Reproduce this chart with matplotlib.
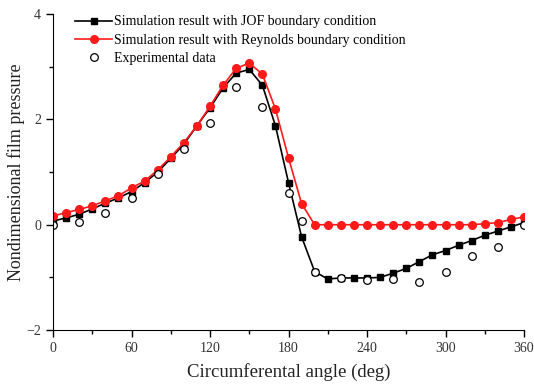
import matplotlib.pyplot as plt
import numpy as np

# circumferential angle (deg)
angle = list(range(0, 370, 10))

# JOF boundary condition
jof = [0.07, 0.13, 0.20, 0.30, 0.41, 0.51, 0.63, 0.80, 1.00, 1.26,
       1.53, 1.88, 2.22, 2.60, 2.88, 2.95, 2.65, 1.88, 0.80, -0.23,
       -0.89, -1.03, -1.01, -1.01, -1.01, -1.00, -0.92, -0.83, -0.70, -0.57,
       -0.49, -0.39, -0.30, -0.20, -0.12, -0.04, 0.04]

# Reynolds boundary condition
reynolds = [0.165, 0.23, 0.29, 0.36, 0.455, 0.55, 0.70, 0.83, 1.04, 1.29,
            1.56, 1.88, 2.25, 2.65, 2.97, 3.07, 2.86, 2.20, 1.27, 0.40,
            0.0, 0.0, 0.0, 0.0, 0.0, 0.0, 0.0, 0.0, 0.0, 0.0,
            0.0, 0.0, 0.0, 0.02, 0.04, 0.10, 0.15]

# experimental data
exp_angle = [0, 20, 40, 60, 80, 100, 120, 140, 160, 180, 190, 200,
             220, 240, 260, 280, 300, 320, 340, 360]
exp_val = [0.0, 0.06, 0.23, 0.50, 0.97, 1.44, 1.94, 2.61, 2.23, 0.61, 0.07, -0.90,
           -1.02, -1.05, -1.03, -1.08, -0.89, -0.59, -0.42, 0.0]

plt.rcParams['font.family'] = ['Liberation Serif', 'DejaVu Serif']

fig = plt.figure(figsize=(5.34, 3.92), dpi=100)
ax = fig.add_axes([0.0993, 0.158, 0.882, 0.806])

ax.plot(angle, jof, '-s', color='black', markersize=5, linewidth=1.2,
        label='Simulation result with JOF boundary condition')
ax.plot(angle, reynolds, '-o', color='#ff1a1a', markersize=5.5, linewidth=1.2,
        label='Simulation result with Reynolds boundary condition')
ax.plot(exp_angle, exp_val, 'o', markerfacecolor='white', markeredgecolor='black',
        markersize=5.5, markeredgewidth=0.9, label='Experimental data')

ax.set_xlim(0, 360)
ax.set_ylim(-2, 4)
ax.set_xticks(np.arange(0, 361, 60))
ax.set_xticks(np.arange(30, 361, 60), minor=True)
ax.set_yticks([-2, 0, 2, 4])
ax.set_yticks([-1, 1, 3], minor=True)
ax.spines['top'].set_visible(False)
ax.spines['right'].set_visible(False)
ax.tick_params(which='major', direction='out', length=5, width=1, labelsize=10,
               labelcolor='#333333')
ax.tick_params(which='minor', direction='out', length=3, width=1)

ax.set_xlabel('Circumferental angle (deg)', fontsize=13.5, color='#222222', labelpad=6)
ax.set_ylabel('Nondimensional film pressure', fontsize=13, color='#222222', labelpad=1)

ax.legend(loc='upper left', bbox_to_anchor=(0.03, 1.022), frameon=False,
          fontsize=10, handlelength=2.6, handletextpad=0.15, labelspacing=0.38,
          borderaxespad=0.2)

plt.savefig('out.png', dpi=100)
